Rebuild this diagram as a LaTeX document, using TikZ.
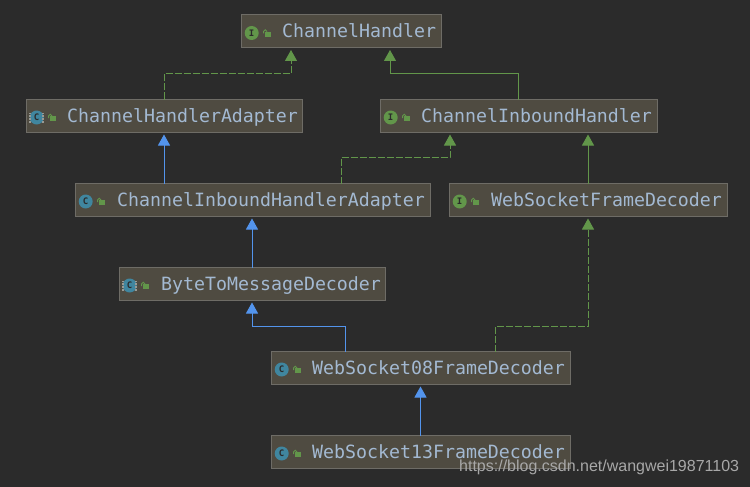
\documentclass[tikz,border=0pt]{standalone}
\usepackage{fontspec}
\setmonofont{DejaVu Sans Mono}
\setsansfont{Liberation Sans}
\usetikzlibrary{arrows.meta}
\definecolor{IdeaBack}{HTML}{2B2B2B}
\definecolor{IdeaBox}{HTML}{4F4B41}
\definecolor{IdeaEdge}{HTML}{6E6C66}
\definecolor{IdeaText}{HTML}{A3B9D2}
\definecolor{IdeaGreen}{HTML}{62964A}
\definecolor{IdeaBlue}{HTML}{5394EC}
\definecolor{IdeaTeal}{HTML}{40869F}
\definecolor{IdeaStripe}{HTML}{9A9A94}
\definecolor{IdeaMark}{HTML}{A8A8A8}
\tikzset{
  classbox/.style={draw=IdeaEdge, fill=IdeaBox, line width=1pt, inner sep=0pt, outer sep=0pt, minimum height=33pt},
  classname/.style={anchor=west, inner sep=0pt, text=IdeaText, text height=16.5pt, text depth=4pt, font=\ttfamily\fontsize{18.25}{20}\selectfont},
  icon/.style={circle, inner sep=0pt, minimum size=14pt, text=IdeaBack, font=\ttfamily\bfseries\fontsize{9}{9}\selectfont},
  iface/.style={icon, fill=IdeaGreen},
  cls/.style={icon, fill=IdeaTeal},
  lockbody/.style={fill=IdeaGreen, inner sep=0pt, minimum width=6pt, minimum height=5pt},
  extends/.style={-{Triangle[length=11pt,width=12pt]}, line width=1pt, shorten >=2pt},
  implements/.style={extends, dash pattern=on 7pt off 2pt}
}
% icon and lock of one class box
\newcommand{\classparts}[3]{
  \node[#2] (#1icon) at ([xshift=10.7pt,yshift=-1.5pt]#1.west) {#3};
  \node[lockbody] (#1lock) at ([xshift=27pt,yshift=-2.7pt]#1.west) {};
  \draw[IdeaGreen, line width=1pt] ([xshift=-1pt]#1lock.north) arc (0:180:1.75pt) -- ++(0,-2pt);
}
\begin{document}
\begin{tikzpicture}[x=1pt, y=-1pt]
  \fill[IdeaBack] (0,0) rectangle (750,487);
  \useasboundingbox (0,0) rectangle (750,487);

  % class boxes
  \node[classbox, minimum width=200pt] (handler) at (341,31.5) {};
  \node[classbox, minimum width=276pt] (adapter) at (164,116) {};
  \node[classbox, minimum width=277pt] (inbound) at (518.5,116) {};
  \node[classbox, minimum width=355pt] (inadapter) at (252.5,200) {};
  \node[classbox, minimum width=278pt] (framedec) at (588,200) {};
  \node[classbox, minimum width=266pt] (bytedec) at (252,284) {};
  \node[classbox, minimum width=299pt] (ws08) at (420.5,368) {};
  \node[classbox, minimum width=299pt] (ws13) at (420.5,452) {};

  \classparts{handler}{iface}{I}
  \classparts{adapter}{cls}{C}
  \classparts{inbound}{iface}{I}
  \classparts{inadapter}{cls}{C}
  \classparts{framedec}{iface}{I}
  \classparts{bytedec}{cls}{C}
  \classparts{ws08}{cls}{C}
  \classparts{ws13}{cls}{C}

  % abstract classes get stripes on both sides
  \draw[IdeaStripe, line width=2pt, dash pattern=on 2pt off 1pt] (adaptericon) ++(-6.5pt,-5pt) -- ++(0,10pt);
  \draw[IdeaStripe, line width=2pt, dash pattern=on 2pt off 1pt] (adaptericon) ++(6.5pt,-5pt) -- ++(0,10pt);
  \draw[IdeaStripe, line width=2pt, dash pattern=on 2pt off 1pt] (bytedecicon) ++(-6.5pt,-5pt) -- ++(0,10pt);
  \draw[IdeaStripe, line width=2pt, dash pattern=on 2pt off 1pt] (bytedecicon) ++(6.5pt,-5pt) -- ++(0,10pt);

  \node[classname] (handlername) at ([xshift=41pt]handler.west) {ChannelHandler};
  \node[classname] (adaptername) at ([xshift=41pt]adapter.west) {ChannelHandlerAdapter};
  \node[classname] (inboundname) at ([xshift=41pt]inbound.west) {ChannelInboundHandler};
  \node[classname] (inadaptername) at ([xshift=42pt]inadapter.west) {ChannelInboundHandlerAdapter};
  \node[classname] (framedecname) at ([xshift=42pt]framedec.west) {WebSocketFrameDecoder};
  \node[classname] (bytedecname) at ([xshift=42pt]bytedec.west) {ByteToMessageDecoder};
  \node[classname] (ws08name) at ([xshift=41pt]ws08.west) {WebSocket08FrameDecoder};
  \node[classname] (ws13name) at ([xshift=41pt]ws13.west) {WebSocket13FrameDecoder};

  % inheritance
  \draw[implements, IdeaGreen] (adapter.north) |- (291,74) -- ([xshift=-50pt]handler.south);
  \draw[extends, IdeaGreen] (inbound.north) |- (390,74) -- ([xshift=49pt]handler.south);
  \draw[extends, IdeaBlue] (inadapter.north -| adapter.south) -- (adapter.south);
  \draw[implements, IdeaGreen] ([xshift=88.5pt]inadapter.north) |- (450,157) -- ([xshift=-68.5pt]inbound.south);
  \draw[extends, IdeaGreen] (framedec.north) -- (framedec.north |- inbound.south);
  \draw[extends, IdeaBlue] (bytedec.north) -- (bytedec.north |- inadapter.south);
  \draw[extends, IdeaBlue] ([xshift=-75pt]ws08.north) |- (252,326) -- (bytedec.south);
  \draw[implements, IdeaGreen] ([xshift=75pt]ws08.north) |- (588,326) -- (framedec.south);
  \draw[extends, IdeaBlue] (ws13.north) -- (ws08.south);

  % watermark
  \node[anchor=west, inner sep=0pt, text=IdeaMark, font=\sffamily\fontsize{16}{18}\selectfont] (mark) at (459,467.5) {https://blog.csdn.net/wangwei19871103};
\end{tikzpicture}
\end{document}
